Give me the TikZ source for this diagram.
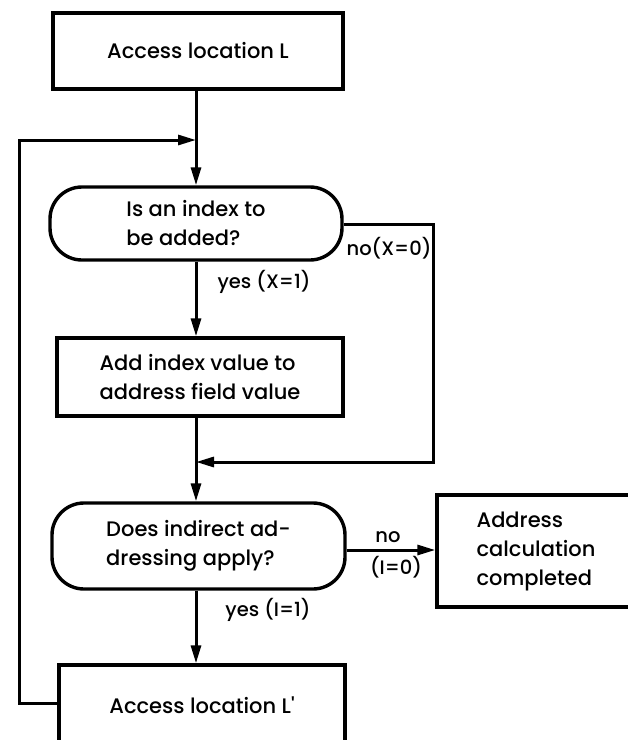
\documentclass[tikz,border=0pt]{standalone}
\usepackage{fontspec}
\setmainfont{Poppins}[UprightFont={* Medium}]
\usetikzlibrary{arrows.meta}
\newcommand{\mytxt}{\fontsize{21}{29}\selectfont}
\newcommand{\mylbl}{\fontsize{19.5}{24}\selectfont}
\begin{document}
\begin{tikzpicture}[x=1pt,y=-1pt,
  box/.style={draw, line width=3.4pt, rectangle, inner sep=0pt, font=\mytxt, align=left},
  term/.style={box, rounded corners=32pt},
  conn/.style={line width=3pt},
  arr/.style={conn, -{Triangle[length=18pt,width=10pt]}},
  lbl/.style={font=\mylbl, inner sep=0pt, align=left}]
\useasboundingbox (0,0) rectangle (628,740);
\clip (0,0) rectangle (628,740);
% nodes
\node[box, minimum width=290pt, minimum height=76pt] (top) at (198,51) {Access location L};
\node[term, minimum width=292pt, minimum height=73pt] (t1) at (196,223.5) {Is an index to\\be added?};
\node[box, minimum width=286pt, minimum height=78pt] (b2) at (200,377) {Add index value to\\address field value};
\node[term, minimum width=293pt, minimum height=86pt] (t2) at (198.5,546) {Does indirect ad-\\dressing apply?};
\node[box, minimum width=198pt, minimum height=112pt] (b3) at (536,551) {Address\\calculation\\completed};
\node[box, minimum width=286pt, minimum height=80pt] (b4) at (202,705) {Access location L\textquotesingle};
% junctions
\coordinate (j1) at (196,140);
\coordinate (j2) at (196,462);
\coordinate (lb) at (19,703);
\coordinate (lt) at (19,140);
\coordinate (r1) at (433,224);
\coordinate (r2) at (433,462);
% connectors
\draw[arr] (top.south -| j1) -- (t1.north -| j1);
\draw[arr] (b4.west |- lb) -- (lb) -- (lt) -- (j1);
\draw[arr] (t1.south -| j1) -- (b2.north -| j1);
\draw[arr] (t1.east |- r1) -- (r1) -- (r2) -- (j2);
\draw[arr] (b2.south -| j2) -- (t2.north -| j2);
\draw[arr] (t2.east |- 0,550) -- (b3.west |- 0,550);
\draw[arr] (t2.south -| j2) -- (b4.north -| j2);
% labels
\node[lbl] (l1) at (389,248) {no(X=0)};
\node[lbl] (l2) at (264,282) {yes (X=1)};
\node[lbl] (l3) at (388,537) {no};
\node[lbl] (l4) at (396,567) {(I=0)};
\node[lbl] (l5) at (268,610) {yes (I=1)};
\end{tikzpicture}
\end{document}
